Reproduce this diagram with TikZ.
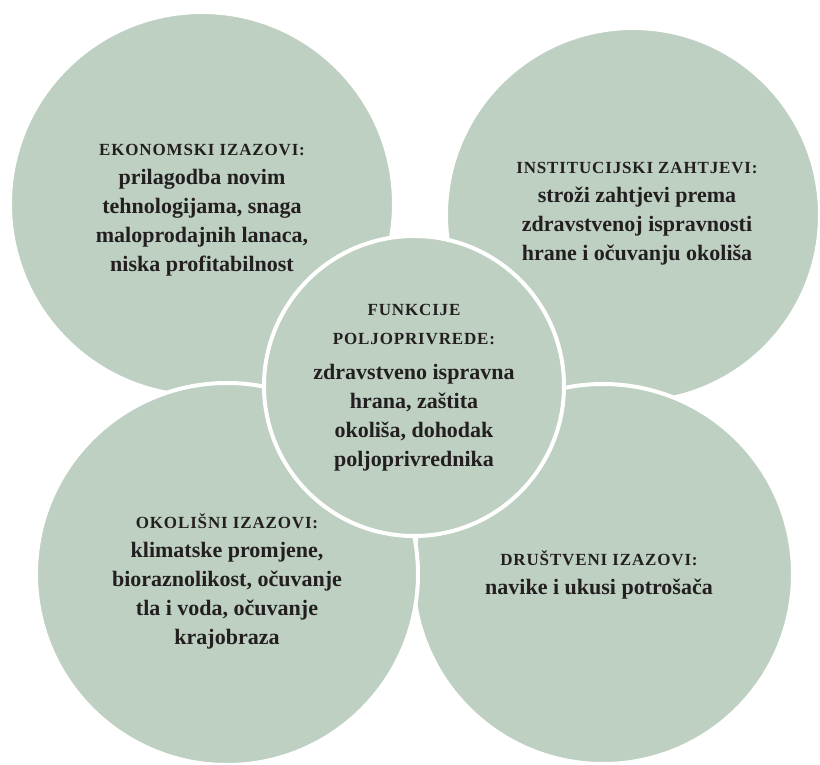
\documentclass[tikz,border=0pt]{standalone}
\usepackage{fontspec}
\setmainfont{Liberation Serif}[BoldFont={Liberation Serif Bold}]
\newfontfamily\headfont{Liberation Serif}[BoldFont={Liberation Serif Bold},LetterSpace=5]
\definecolor{sage}{RGB}{190,208,193}
\definecolor{ink}{RGB}{35,31,32}
\newcommand{\hd}[1]{{\headfont\bfseries\fontsize{17}{29}\selectfont #1}}
\begin{document}
\begin{tikzpicture}[x=1pt,y=-1pt,
  bub/.style={circle, fill=sage, draw=white, line width=4pt, inner sep=0pt},
  txt/.style={align=center, text=ink, inner sep=0pt, font=\bfseries\fontsize{22}{29}\selectfont}]
\useasboundingbox (0,0) rectangle (820,765);
\node[bub, minimum size=384pt] (tl) at (202,204) {};
\node[bub, minimum size=374pt] (tr) at (633,215) {};
\node[bub, minimum size=380pt] (br) at (603,574) {};
\node[bub, minimum size=382pt] (bl) at (227,574) {};
\node[bub, minimum size=300pt] (c) at (414,386) {};
\node[txt] (tlt) at (202,210) {\hd{EKONOMSKI IZAZOVI:}\\prilagodba novim\\tehnologijama, snaga\\maloprodajnih lanaca,\\niska profitabilnost};
\node[txt] (trt) at (637,214) {\hd{INSTITUCIJSKI ZAHTJEVI:}\\stroži zahtjevi prema\\zdravstvenoj ispravnosti\\hrane i očuvanju okoliša};
\node[txt] (blt) at (227,581) {\hd{OKOLIŠNI IZAZOVI:}\\klimatske promjene,\\bioraznolikost, očuvanje\\tla i voda, očuvanje\\krajobraza};
\node[txt] (brt) at (599,575) {\hd{DRUŠTVENI IZAZOVI:}\\navike i ukusi potrošača};
\node[txt] (ct) at (414,388) {\hd{FUNKCIJE}\\\hd{POLJOPRIVREDE:}\\[6pt]zdravstveno ispravna\\hrana, zaštita\\okoliša, dohodak\\poljoprivrednika};
\end{tikzpicture}
\end{document}
